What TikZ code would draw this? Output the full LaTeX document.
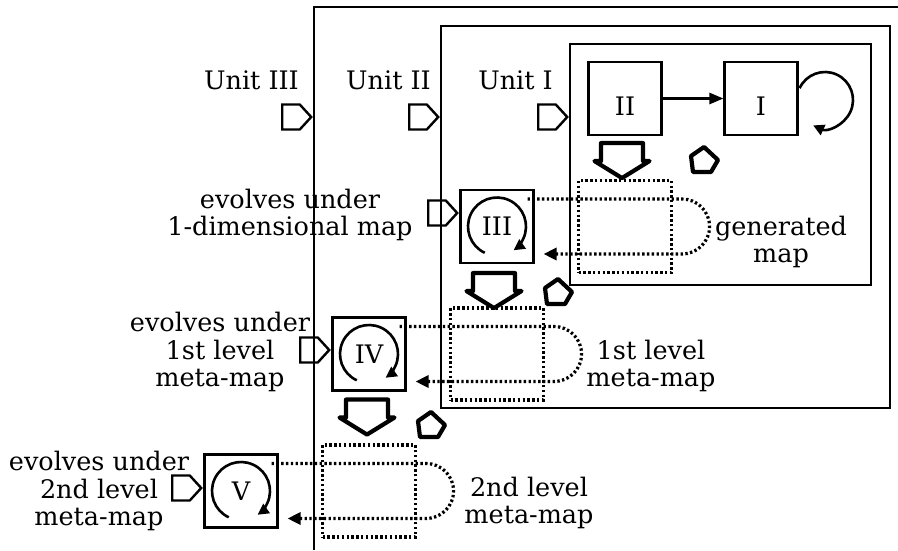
\documentclass[tikz,border=0pt]{standalone}
\usepackage{fontspec}
\setmainfont{DejaVu Serif}
\usetikzlibrary{arrows.meta}
\usetikzlibrary{shapes.symbols}

\tikzset{blockdown/.pic = {\draw[stepStyle] (-21,0) -- (-21,18) -- (-27.5,18) -- (0,35) -- (27.5,18) -- (21,18) -- (21,0) -- cycle;}}
\tikzset{turn/.pic = {\draw[turnStyle] (1,-14) -- (15,-1) -- (8,11) -- (-10,11) -- (-12,-5) -- cycle;}}

\begin{document}
\begin{tikzpicture}[x = 1pt, y = -1pt, inner sep = 0pt, font = \fontsize{25.5}{27.5}\selectfont]
\tikzstyle{frameStyle} = [line width = 1.6pt]
\tikzstyle{mapStyle} = [draw, line width = 2.1pt, minimum size = 73pt]
\tikzstyle{dotStyle} = [draw, line width = 3.2pt, dash pattern = on 2.4pt off 2.4pt, minimum width = 93pt, minimum height = 92pt]
\tikzstyle{inStyle} = [draw, shape = signal, signal to = east, signal pointer angle = 95, line width = 2.4pt, minimum width = 29pt, minimum height = 25pt]
\tikzstyle{turnStyle} = [line width = 4.2pt, line join = round]
\tikzstyle{stepStyle} = [line width = 4.2pt, line join = round]
\tikzstyle{feedStyle} = [line width = 3.2pt, dash pattern = on 2.4pt off 2.4pt, -{Triangle[length = 13pt, width = 12pt]}]
\tikzstyle{spinStyle} = [line width = 2.6pt, -{Triangle[length = 11pt, width = 11pt]}]
\useasboundingbox (0, 0) rectangle (898, 550);
\draw[frameStyle] (314, 550) -- (314, 7) -- (898, 7);
\draw[frameStyle] (441, 26) rectangle (890, 408);
\draw[frameStyle] (570, 44) rectangle (871, 285);
\node[mapStyle] (II) at (625, 98.5) {};
\node[mapStyle] (I) at (761, 98.5) {};
\node (IIlab) at ([yshift = -7.5pt]II.center) {II};
\node (Ilab) at ([yshift = -7.5pt]I.center) {I};
\node[mapStyle] (III) at (497, 226.5) {III};
\node[mapStyle] (IV) at (369, 354) {IV};
\node[mapStyle] (V) at (241, 491) {V};
\draw[line width = 2.6pt, -{Triangle[length = 14pt, width = 11pt]}] (II) -- (I);
\draw[spinStyle] ([shift = {(64, 1.5)}]I.center) ++(205:28) arc[start angle = 205, end angle = 475, radius = 28];
\foreach \n in {III, IV, V}
  \draw[spinStyle] (\n.center) ++(115:29) arc[start angle = 115, end angle = 415, radius = 29];
\node[dotStyle] (d1) at (II |- III) {};
\node[dotStyle] (d2) at (III |- IV) {};
\node[dotStyle] (d3) at (IV |- V) {};
\foreach \s/\d in {III/d1, IV/d2, V/d3}
  \draw[feedStyle] ([shift = {(-7, -27.5)}]\s.east) -- ([shift = {(9, -27.5)}]\d.east) arc[start angle = -90, end angle = 90, radius = 27.5] -- ([shift = {(9, 27.5)}]\s.east);
\pic at ([shift = {(-3, 7)}]II.south) {blockdown};
\pic at ([shift = {(-3, 9)}]III.south) {blockdown};
\pic at ([shift = {(-2, 8)}]IV.south) {blockdown};
\pic at (703, 161) {turn};
\pic at (557, 293) {turn};
\pic at (430, 426) {turn};
\node[inStyle] (inIII) at (291, 117) {};
\node[inStyle] (inII) at (418, 117) {};
\node[inStyle] (inI) at (547, 117) {};
\node[inStyle] (in1) at (437, 213) {};
\node[inStyle] (in2) at (309, 350) {};
\node[inStyle] (in3) at (181, 488) {};
\node[anchor = base east] (uIII) at (299, 89) {Unit III};
\node[anchor = base east] (uII) at (431, 89) {Unit II};
\node[anchor = base east] (uI) at (553, 89) {Unit I};
\node[align = center] (t1) at (290, 215) {evolves under\\1-dimensional map};
\node[align = center] (t2) at (220, 352) {evolves under\\1st level\\meta-map};
\node[align = center] (t3) at (99, 491) {evolves under\\2nd level\\meta-map};
\node[align = center] (t4) at (781, 242) {generated\\map};
\node[align = center] (t5) at (651, 366) {1st level\\meta-map};
\node[align = center] (t6) at (529, 503) {2nd level\\meta-map};
\end{tikzpicture}
\end{document}
